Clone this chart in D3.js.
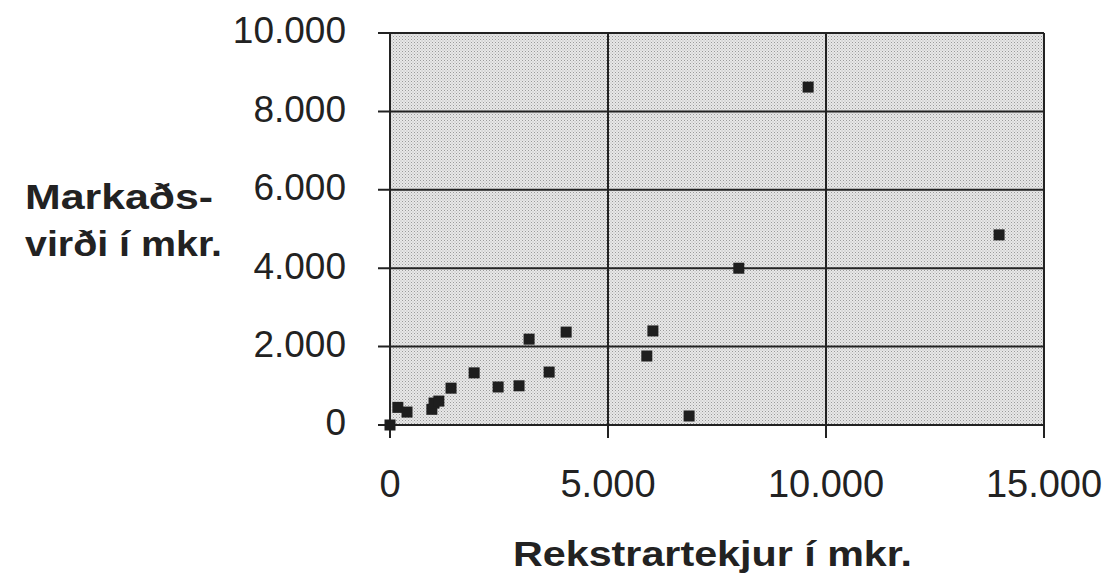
<!DOCTYPE html>
<html>
<head>
<meta charset="utf-8">
<script src="https://cdn.jsdelivr.net/npm/d3@7"></script>
<style>
  body { margin: 0; background: #fff; }
  svg text { font-family: "Liberation Sans", Arial, sans-serif; fill: #222; }
</style>
</head>
<body>
<div id="main"></div>
<script>
// --- data (mkr.)
const revenue = [0, 180, 390, 960, 1010, 1120, 1400, 1930, 2480, 2960, 3190, 3650, 4040, 5890, 6030, 6860, 8000, 9590, 13970];
const marketValue = [0, 450, 330, 400, 560, 610, 940, 1330, 970, 1000, 2190, 1350, 2370, 1760, 2400, 230, 4000, 8620, 4850];
const xTicks = [0, 5000, 10000, 15000];
const yTicks = [0, 2000, 4000, 6000, 8000, 10000];
const yTitle = ['Markaðs-', 'virði í mkr.'];
const xTitle = 'Rekstrartekjur í mkr.';

const svgWidth = 1116, svgHeight = 578;
const margin = { left: 390, top: 33, right: 72, bottom: 153 };
const chartWidth = svgWidth - margin.left - margin.right;
const chartHeight = svgHeight - margin.top - margin.bottom;

const fmt = d => d3.format(',')(d).replace(/,/g, '.');

const svg = d3.select('#main')
  .append('svg')
  .attr('width', svgWidth)
  .attr('height', svgHeight);

// stippled grey background
const pat = svg.append('defs').append('pattern')
  .attr('id', 'stipple')
  .attr('width', 3).attr('height', 3)
  .attr('patternUnits', 'userSpaceOnUse');
pat.append('rect').attr('width', 3).attr('height', 3).attr('fill', '#e8e8e8');
pat.append('rect').attr('width', 1).attr('height', 1).attr('fill', '#9a9a9a');
pat.append('rect').attr('x', 1.5).attr('y', 1.5).attr('width', 1).attr('height', 1).attr('fill', '#b0b0b0');

const xScale = d3.scaleLinear().domain([0, 15000]).range([0, chartWidth]);
const yScale = d3.scaleLinear().domain([0, 10000]).range([chartHeight, 0]);

const g = svg.append('g')
  .attr('transform', `translate(${margin.left}, ${margin.top})`);

g.append('rect')
  .attr('width', chartWidth)
  .attr('height', chartHeight)
  .attr('fill', 'url(#stipple)');

// gridlines
g.selectAll('.hgrid')
  .data(yTicks)
  .enter()
  .append('line')
  .attr('x1', -12).attr('x2', chartWidth)
  .attr('y1', d => yScale(d)).attr('y2', d => yScale(d))
  .attr('stroke', '#222').attr('stroke-width', 2);

g.selectAll('.vgrid')
  .data(xTicks)
  .enter()
  .append('line')
  .attr('x1', d => xScale(d)).attr('x2', d => xScale(d))
  .attr('y1', 0).attr('y2', chartHeight + 13)
  .attr('stroke', '#222').attr('stroke-width', 2);

// tick labels
g.selectAll('.ylab')
  .data(yTicks)
  .enter()
  .append('text')
  .attr('x', -44)
  .attr('y', d => yScale(d) - 3)
  .attr('dy', '0.36em')
  .attr('text-anchor', 'end')
  .attr('font-size', 37)
  .text(fmt);

g.selectAll('.xlab')
  .data(xTicks)
  .enter()
  .append('text')
  .attr('x', d => xScale(d))
  .attr('y', chartHeight + 72)
  .attr('text-anchor', 'middle')
  .attr('font-size', 38)
  .text(fmt);

// points
g.selectAll('.pt')
  .data(revenue.map((r, i) => [r, marketValue[i]]))
  .enter()
  .append('rect')
  .attr('x', d => xScale(d[0]) - 5.5)
  .attr('y', d => yScale(d[1]) - 5.5)
  .attr('width', 11).attr('height', 11)
  .attr('fill', '#1e1e1e');

// axis titles
svg.selectAll('.ytitle')
  .data(yTitle)
  .enter()
  .append('text')
  .attr('x', 25)
  .attr('y', (d, i) => 209 + i * 47)
  .attr('font-size', 35)
  .attr('font-weight', 'bold')
  .attr('textLength', (d, i) => i === 0 ? 188 : 197)
  .attr('lengthAdjust', 'spacingAndGlyphs')
  .text(d => d);

svg.append('text')
  .attr('x', 513)
  .attr('y', 566)
  .attr('font-size', 35)
  .attr('font-weight', 'bold')
  .attr('textLength', 399)
  .attr('lengthAdjust', 'spacingAndGlyphs')
  .text(xTitle);
</script>
</body>
</html>
